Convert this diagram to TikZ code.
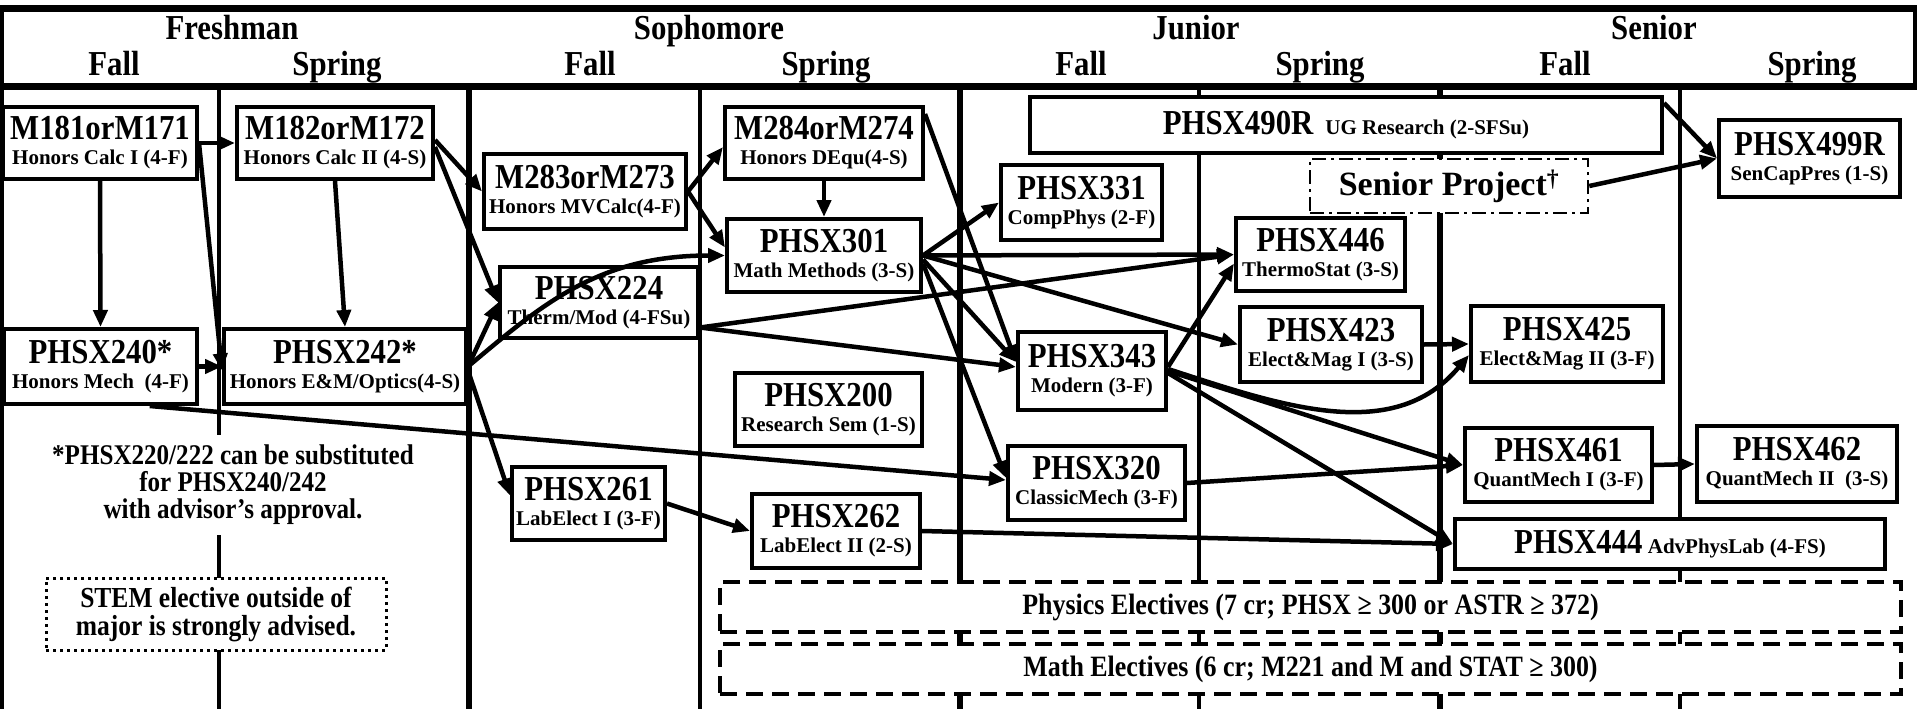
\documentclass[tikz,border=0pt]{standalone}
\usepackage{fontspec}
\setmainfont{Liberation Serif}
\newfontfamily\narrowFont[FakeStretch=0.88]{Liberation Serif}
\usetikzlibrary{arrows.meta,calc}
\definecolor{chartInk}{RGB}{0,0,0}

\newcommand{\crsTitle}[1]{{\narrowFont\fontsize{35pt}{25pt}\selectfont #1}}

\tikzset{
  crsBox/.style={draw=chartInk, line width=4pt, fill=white, inner sep=0pt, align=center,
    font=\bfseries\fontsize{21pt}{25pt}\selectfont},
  prereq/.style={draw=chartInk, line width=4.5pt, -{Triangle[length=17pt,width=14pt]}},
  semRule/.style={chartInk, line width=3.5pt},
  yearRule/.style={chartInk, line width=6.5pt},
  headText/.style={anchor=base, font=\narrowFont\bfseries\fontsize{35pt}{35pt}\selectfont},
  noteText/.style={align=center, fill=white, inner sep=0pt, font=\narrowFont\bfseries\fontsize{28.5pt}{27pt}\selectfont},
  electBox/.style={draw=chartInk, line width=3.5pt, dash pattern=on 17pt off 9pt, fill=white,
    inner sep=0pt, font=\narrowFont\bfseries\fontsize{29.5pt}{29.5pt}\selectfont},
}

\begin{document}
\begin{tikzpicture}[x=1pt, y=-1pt]
\useasboundingbox (0,0) rectangle (1917,709);

% header frame
\draw[chartInk, line width=7pt] (0,8.5) -- (1917,8.5);
\draw[chartInk, line width=7pt] (0,86.5) -- (1917,86.5);
\draw[chartInk, line width=4pt] (2,8.5) -- (2,709);
\draw[chartInk, line width=4pt] (1915,8.5) -- (1915,86.5);

\node[headText] (yrFresh) at (232,40) {Freshman};
\node[headText] (yrSoph) at (709,40) {Sophomore};
\node[headText] (yrJun) at (1196,40) {Junior};
\node[headText] (yrSen) at (1654,40) {Senior};
\foreach \sx/\sname in {114/Fall,337/Spring,590/Fall,826/Spring,1081/Fall,1320/Spring,1565/Fall,1812/Spring}
  \node[headText] (sem\sx) at (\sx,76) {\sname};

% semester and year rules
\foreach \dx in {219,700,1199,1680}
  \draw[semRule] (\dx,86.5) -- (\dx,709);
\foreach \dx in {469,960,1440}
  \draw[yearRule] (\dx,86.5) -- (\dx,709);

% notes
\node[noteText, minimum width=400pt, minimum height=100pt] (subNote) at (233,485)
  {*PHSX220/222 can be substituted\\for PHSX240/242\\with advisor’s approval.};
\node[noteText, draw=chartInk, line width=3pt, dash pattern=on 3pt off 4pt,
  minimum width=340pt, minimum height=72pt, font=\narrowFont\bfseries\fontsize{29pt}{28pt}\selectfont] (stemNote) at (216,614)
  {STEM elective outside of\\major is strongly advised.};

% electives
\node[electBox, minimum width=1181pt, minimum height=50pt] (physElect) at (1310.5,607)
  {Physics Electives (7 cr; PHSX ≥ 300 or ASTR ≥ 372)};
\node[electBox, minimum width=1181pt, minimum height=50pt] (mathElect) at (1310.5,669)
  {Math Electives (6 cr; M221 and M and STAT ≥ 300)};

% courses
\node[crsBox, minimum width=194pt, minimum height=72pt] (m181) at (100,143) {\crsTitle{M181orM171}\\Honors Calc I (4-F)};
\node[crsBox, minimum width=196pt, minimum height=72pt] (m182) at (335,143) {\crsTitle{M182orM172}\\Honors Calc II (4-S)};
\node[crsBox, minimum width=202pt, minimum height=75pt] (m283) at (585,191.5) {\crsTitle{M283orM273}\\Honors MVCalc(4-F)};
\node[crsBox, minimum width=198pt, minimum height=72pt] (m284) at (824,143) {\crsTitle{M284orM274}\\Honors DEqu(4-S)};
\node[crsBox, minimum width=194pt, minimum height=73pt] (p301) at (824,255.5) {\crsTitle{PHSX301}\\Math Methods (3-S)};
\node[crsBox, minimum width=161pt, minimum height=75pt] (p331) at (1081.5,202.5) {\crsTitle{PHSX331}\\CompPhys (2-F)};
\node[crsBox, minimum width=632pt, minimum height=56pt] (p490) at (1346,125) {\crsTitle{PHSX490R}\hspace{12pt}UG Research (2-SFSu)};
\node[crsBox, draw=chartInk, line width=2.5pt, dash pattern=on 14pt off 5pt on 3pt off 5pt,
  minimum width=278pt, minimum height=54pt, font=\bfseries\fontsize{34pt}{34pt}\selectfont] (sproj) at (1449,186) {Senior Project\textsuperscript{\textdagger}};
\node[crsBox, minimum width=181pt, minimum height=77pt] (p499) at (1809.5,158.5) {\crsTitle{PHSX499R}\\SenCapPres (1-S)};
\node[crsBox, minimum width=169pt, minimum height=73pt] (p446) at (1320.5,254.5) {\crsTitle{PHSX446}\\ThermoStat (3-S)};
\node[crsBox, minimum width=198pt, minimum height=71pt] (p224) at (599,302.5) {\crsTitle{PHSX224}\\Therm/Mod (4-FSu)};
\node[crsBox, minimum width=193pt, minimum height=75pt] (p240) at (100.5,366.5) {\crsTitle{PHSX240*}\\Honors Mech~ (4-F)};
\node[crsBox, minimum width=242pt, minimum height=75pt] (p242) at (345,366.5) {\crsTitle{PHSX242*}\\Honors E\&M/Optics(4-S)};
\node[crsBox, minimum width=148pt, minimum height=78pt] (p343) at (1092,371) {\crsTitle{PHSX343}\\Modern (3-F)};
\node[crsBox, minimum width=182pt, minimum height=75pt] (p423) at (1331,344.5) {\crsTitle{PHSX423}\\Elect\&Mag I (3-S)};
\node[crsBox, minimum width=192pt, minimum height=76pt] (p425) at (1567,344) {\crsTitle{PHSX425}\\Elect\&Mag II (3-F)};
\node[crsBox, minimum width=187pt, minimum height=73pt] (p200) at (828.5,409.5) {\crsTitle{PHSX200}\\Research Sem (1-S)};
\node[crsBox, minimum width=177pt, minimum height=74pt] (p320) at (1096.5,483) {\crsTitle{PHSX320}\\ClassicMech (3-F)};
\node[crsBox, minimum width=187pt, minimum height=74pt] (p461) at (1558.5,465) {\crsTitle{PHSX461}\\QuantMech I (3-F)};
\node[crsBox, minimum width=200pt, minimum height=76pt] (p462) at (1797,464) {\crsTitle{PHSX462}\\QuantMech II~ (3-S)};
\node[crsBox, minimum width=153pt, minimum height=73pt] (p261) at (588.5,503.5) {\crsTitle{PHSX261}\\LabElect I (3-F)};
\node[crsBox, minimum width=168pt, minimum height=74pt] (p262) at (836,531) {\crsTitle{PHSX262}\\LabElect II (2-S)};
\node[crsBox, minimum width=430pt, minimum height=50pt] (p444) at (1670,544) {\crsTitle{PHSX444} AdvPhysLab (4-FS)};

% prerequisites
\draw[prereq] (m181.east) -- (m182.west);
\draw[prereq] (m181.south) -- (p240.north);
\draw[prereq] (m181.east) -- ([yshift=-4pt]p242.west);
\draw[prereq] (m182.south) -- (p242.north);
\draw[prereq] (p240.east) -- (p242.west);
\draw[prereq] ([yshift=3pt]m182.east) -- (m283.west);
\draw[prereq] ([yshift=-4pt]m182.east) -- (p224.west);
\draw[prereq] (p242.east) -- (p224.west);
\draw[prereq] (p242.east) .. controls +(74,-62) and +(-127,0) .. (p301.west);
\draw[prereq] ([yshift=-4pt]p242.east) -- ([yshift=8pt]p261.west);
\draw[prereq] ($(p240.south)!0.5!(p240.south east)$) -- ([yshift=3pt]p320.west);
\draw[prereq] (m283.east) -- ([yshift=-4pt]m284.west);
\draw[prereq] (m283.east) -- ([yshift=8pt]p301.west);
\draw[prereq] (m284.south) -- (p301.north);
\draw[prereq] ([yshift=-9pt]m284.north east) -- ([yshift=9pt]p343.west);
\draw[prereq] (p301.east) -- (p331.west);
\draw[prereq] (p301.east) -- (p446.west);
\draw[prereq] ([yshift=-25pt]p224.east) -- (p446.west);
\draw[prereq] ([yshift=-25pt]p224.east) -- ([yshift=4pt]p343.west);
\draw[prereq] (p301.east) -- (p423.west);
\draw[prereq] ([yshift=-4pt]p301.east) -- ([yshift=9pt]p343.west);
\draw[prereq] ([yshift=-8pt]p301.east) -- ([yshift=5pt]p320.west);
\draw[prereq] ([yshift=4pt]p343.east) -- ([yshift=-9pt]p446.west);
\draw[prereq] ([yshift=2pt]p343.east) to[out=-18,in=-130] ([yshift=-11pt]p425.west);
\draw[prereq] (p343.east) -- (p461.west);
\draw[prereq] ([yshift=-2pt]p343.east) -- (p444.west);
\draw[prereq] (p320.east) -- (p461.west);
\draw[prereq] (p262.east) -- (p444.west);
\draw[prereq] (p261.east) -- (p262.west);
\draw[prereq] (p423.east) -- (p425.west);
\draw[prereq] (p461.east) -- (p462.west);
\draw[prereq] ([yshift=-8pt]p490.north east) -- (p499.west);
\draw[prereq] (sproj.east) -- (p499.west);
\end{tikzpicture}
\end{document}
